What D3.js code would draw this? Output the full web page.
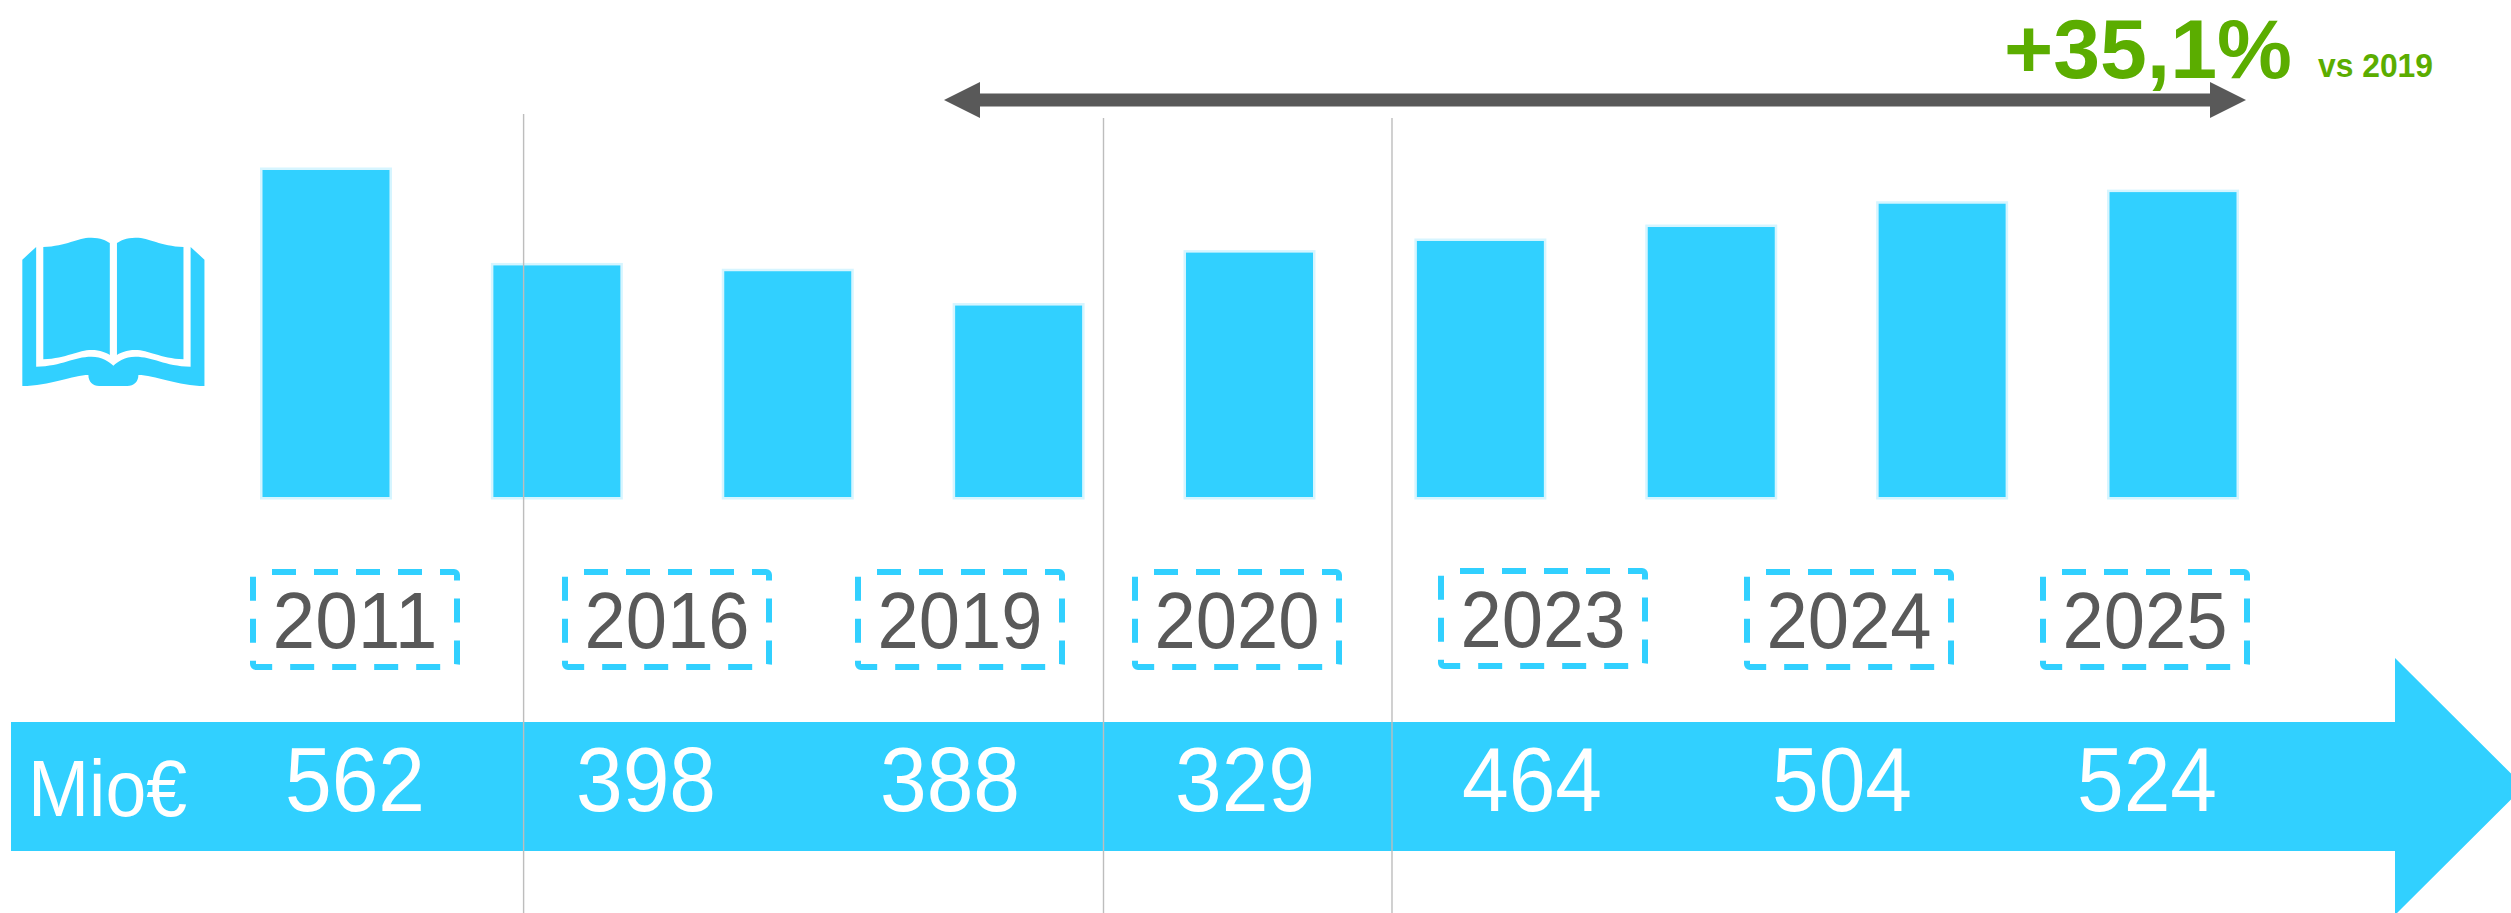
<!DOCTYPE html>
<html>
<head>
<meta charset="utf-8">
<script src="https://cdnjs.cloudflare.com/ajax/libs/d3/7.8.5/d3.min.js"></script>
<style>
html,body{margin:0;padding:0;background:#fff;overflow:hidden}
svg{display:block;font-family:"Liberation Sans",Arial,sans-serif}
</style>
</head>
<body>
<svg id="chart" width="2511" height="913"></svg>
<script>
// Data
const barYears  = ["2011","2016","2019","2020","2021","2022","2023","2024","2025"];
const barValues = [562,398,388,329,420,440,464,504,524];
const rowYears  = ["2011","2016","2019","2020","2023","2024","2025"];
const rowValues = [562,398,388,329,464,504,524];
const unitLabel = "Mio€";
const growthLabel = "+35,1%";
const growthNote = "vs 2019";

// Colours
const BLUE="#31D0FF", HALO="#D6F5FF", GREY="#595959", GREEN="#5BAD00", RULE="#BDBDBD";

const svg=d3.select("#chart");

// Scales
const x=d3.scaleBand().domain(barYears).range([262.5,2236.5]).paddingInner(0.45).paddingOuter(0);
const y=d3.scaleLinear().domain([0,562]).range([497,170]);
const boxX=d3.scaleOrdinal().domain(rowYears).range([253,565,858,1135,1441,1747,2043]);
const valX=d3.scaleOrdinal().domain(rowYears).range([355,646,950,1245,1532,1842,2147]);

// Bars
svg.append("g").selectAll("rect").data(barValues).join("rect")
  .attr("x",(d,i)=>x(barYears[i]))
  .attr("y",d=>y(d))
  .attr("width",x.bandwidth())
  .attr("height",d=>y(0)-y(d))
  .attr("fill",BLUE).attr("stroke",HALO).attr("stroke-width",5)
  .style("paint-order","stroke");

// Blue timeline arrow
const bandTop=722, bandBot=851, headX=2395, headTop=658, headBot=915, tipX=2524;
svg.append("path")
  .attr("d",d3.line()([[11,bandTop],[headX,bandTop],[headX,headTop],[tipX,(bandTop+bandBot)/2],[headX,headBot],[headX,bandBot],[11,bandBot]])+"Z")
  .attr("fill",BLUE);

// Separators
const rules=[{x:523.6,y0:114},{x:1103.5,y0:118},{x:1392,y0:118}];
svg.append("g").selectAll("line").data(rules).join("line")
  .attr("x1",d=>d.x).attr("x2",d=>d.x).attr("y1",d=>d.y0).attr("y2",913)
  .attr("stroke",RULE).attr("stroke-width",1.4);

// Year boxes + labels
const boxW=204, boxH=95, boxTop=572;
const yrs=svg.append("g").selectAll("g").data(rowYears).join("g")
  .attr("transform",d=>`translate(${boxX(d)},${boxTop-(d==="2023"?1:0)})`);
yrs.append("rect")
  .attr("width",boxW).attr("height",boxH).attr("rx",3)
  .attr("fill","none").attr("stroke",BLUE).attr("stroke-width",6)
  .attr("stroke-dasharray","24 18").attr("stroke-dashoffset",26);
yrs.append("text")
  .attr("x",boxW/2).attr("y",76)
  .attr("text-anchor","middle").attr("font-size",80).attr("fill",GREY)
  .attr("textLength",165).attr("lengthAdjust","spacingAndGlyphs")
  .text(d=>d);

// Values on the arrow
svg.append("g").selectAll("text").data(rowValues).join("text")
  .attr("x",(d,i)=>valX(rowYears[i])).attr("y",811)
  .attr("text-anchor","middle").attr("font-size",90).attr("fill","#fff")
  .attr("textLength",140).attr("lengthAdjust","spacingAndGlyphs")
  .text(d=>d);
svg.append("text").attr("x",28).attr("y",816).attr("font-size",80).attr("fill","#fff")
  .attr("textLength",159).attr("lengthAdjust","spacingAndGlyphs").text(unitLabel);

// Double arrow
const arrowL=944, arrowR=2246, arrowY=100, headLen=36, headH=18, shaft=6.5;
svg.append("path")
  .attr("d",d3.line()([
    [arrowL,arrowY],[arrowL+headLen,arrowY-headH],[arrowL+headLen,arrowY-shaft],
    [arrowR-headLen,arrowY-shaft],[arrowR-headLen,arrowY-headH],[arrowR,arrowY],
    [arrowR-headLen,arrowY+headH],[arrowR-headLen,arrowY+shaft],
    [arrowL+headLen,arrowY+shaft],[arrowL+headLen,arrowY+headH]])+"Z")
  .attr("fill",GREY);

// Growth annotation
svg.append("text").attr("x",2004).attr("y",78).attr("font-size",84).attr("font-weight","bold").attr("fill",GREEN)
  .attr("textLength",288).attr("lengthAdjust","spacingAndGlyphs").text(growthLabel);
svg.append("text").attr("x",2318).attr("y",77).attr("font-size",34).attr("font-weight","bold").attr("fill",GREEN)
  .attr("textLength",115).attr("lengthAdjust","spacingAndGlyphs").text(growthNote);

// Book icon
const book=svg.append("g").attr("transform","translate(0,100) scale(0.4464,0.3333)").attr("fill",BLUE);
book.append("path").attr("d","M97,441 C150,438 175,412 205,413 C225,413 238,422 246,429 L246,765 C238,758 225,750 205,750 C175,750 150,775 97,778 Z");
book.append("path").attr("d","M411,441 C358,438 333,412 303,413 C283,413 270,422 262,429 L262,765 C270,758 283,750 303,750 C333,750 358,775 411,778 Z");
book.append("path").attr("d","M50,479 L81,441 L81,800 C140,798 165,770 205,770 C228,770 245,785 254,797 C263,785 280,770 303,770 C343,770 368,798 427,800 L427,441 L458,479 L458,858 C400,858 345,825 310,825 C310,845 300,858 285,858 L222,858 C208,858 198,845 198,825 C165,825 110,858 50,858 Z");
</script>
</body>
</html>
